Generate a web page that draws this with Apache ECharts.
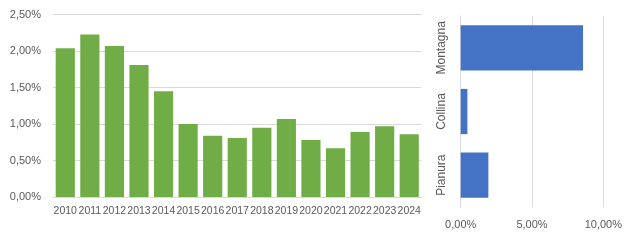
<!DOCTYPE html>
<html><head><meta charset="utf-8">
<script src="https://cdn.jsdelivr.net/npm/echarts@6/dist/echarts.min.js"></script>
<style>html,body{margin:0;padding:0;background:#fff}#c{width:630px;height:240px}</style>
</head><body><div id="c"></div>
<script>
var years = ['2010','2011','2012','2013','2014','2015','2016','2017','2018','2019','2020','2021','2022','2023','2024'];
var yearValues = [2.04, 2.23, 2.07, 1.81, 1.45, 1.00, 0.84, 0.81, 0.95, 1.07, 0.78, 0.67, 0.89, 0.97, 0.86];
var zones = ['Pianura', 'Collina', 'Montagna'];
var zoneValues = [1.94, 0.47, 8.58];
var leftTicks = [0, 0.5, 1, 1.5, 2, 2.5];
var rightTicks = [0, 5, 10];

function pct(v){ return v.toFixed(2).replace('.', ',') + '%'; }
var txt = {color:'#595959', fontFamily:'Liberation Sans, Arial, sans-serif', fontSize:11};
var chart = echarts.init(document.getElementById('c'), null, {renderer:'canvas'});
chart.setOption({
  animation:false,
  grid:[
    {left:53, top:14.7, width:368.5, height:182.3},
    {left:460.7, top:16, width:142.6, height:191}
  ],
  xAxis:[
    {gridIndex:0, type:'category', data:years,
     axisLine:{lineStyle:{color:'#d9d9d9'}}, axisTick:{show:false},
     axisLabel:Object.assign({interval:0, margin:9, fontSize:10.5}, {color:txt.color, fontFamily:txt.fontFamily})},
    {gridIndex:1, type:'value', min:rightTicks[0], max:rightTicks[rightTicks.length-1], interval:rightTicks[1]-rightTicks[0],
     splitLine:{lineStyle:{color:'#d9d9d9'}}, axisLine:{show:false}, axisTick:{show:false},
     axisLabel:Object.assign({margin:12, formatter:pct}, txt)}
  ],
  yAxis:[
    {gridIndex:0, type:'value', min:leftTicks[0], max:leftTicks[leftTicks.length-1], interval:leftTicks[1]-leftTicks[0],
     splitLine:{lineStyle:{color:'#d9d9d9'}}, axisLine:{show:false}, axisTick:{show:false},
     axisLabel:Object.assign({margin:12, formatter:pct}, txt)},
    {gridIndex:1, type:'category', data:zones,
     axisLine:{show:true, lineStyle:{color:'#d9d9d9'}}, axisTick:{show:false},
     axisLabel:Object.assign({rotate:90, interval:0, margin:13, fontSize:12}, {color:txt.color, fontFamily:txt.fontFamily})}
  ],
  series:[
    {type:'bar', xAxisIndex:0, yAxisIndex:0, data:yearValues, barCategoryGap:'22%', itemStyle:{color:'#70AD47'}},
    {type:'bar', xAxisIndex:1, yAxisIndex:1, data:zoneValues, barCategoryGap:'29%', itemStyle:{color:'#4472C4'}}
  ]
});
</script></body></html>
